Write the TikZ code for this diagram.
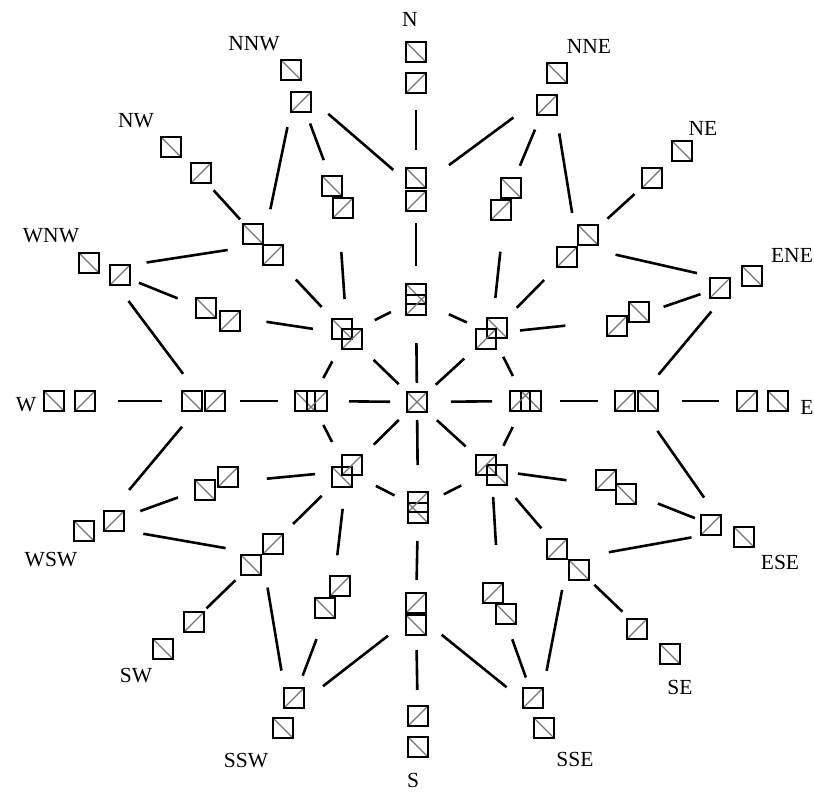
\documentclass[tikz,border=0pt]{standalone}
\usepackage{fontspec}
\setmainfont{Liberation Serif}
\usetikzlibrary{calc}
\tikzset{
  sq/.style={draw, line width=2.2pt, minimum size=19.8pt, inner sep=0pt, outer sep=0pt},
  diag/.style={draw=black!55, line width=1.1pt},
  bsq/.style={sq, path picture={\draw[diag] (path picture bounding box.north west) -- (path picture bounding box.south east);}},
  fsq/.style={sq, path picture={\draw[diag] (path picture bounding box.south west) -- (path picture bounding box.north east);}},
  link/.style={line width=2.6pt},
  lab/.style={inner sep=0pt, font=\fontsize{21.5}{24}\selectfont},
}
\newcommand\gnode[5]{%
  \node[bsq] (#1b) at (#2,#3) {};
  \node[fsq] (#1f) at (#4,#5) {};
  \coordinate (#1) at ($(#1b.center)!0.5!(#1f.center)$);}
\begin{document}
\begin{tikzpicture}[x=1pt,y=-1pt]
\useasboundingbox (0,0) rectangle (814,792);
% centre
\gnode{c}{417}{402}{417}{402}
% ring 1
\gnode{aN}{416}{294}{416}{305}
\gnode{aNE}{497}{328}{486}{339}
\gnode{aE}{531}{401}{520}{401}
\gnode{aSE}{497}{475}{486}{465}
\gnode{aS}{418}{513}{418}{502}
\gnode{aSW}{342}{477}{352}{465}
\gnode{aW}{305}{401}{317}{401}
\gnode{aNW}{342}{329}{352}{339}
% ring 2
\gnode{bN}{416}{178}{416}{201}
\gnode{bNNE}{511}{188}{501}{210}
\gnode{bNE}{588}{235}{567}{257}
\gnode{bENE}{639}{312}{617}{326}
\gnode{bE}{648}{401}{625}{401}
\gnode{bESE}{626}{494}{606}{480}
\gnode{bSE}{579}{570}{557}{549}
\gnode{bSSE}{506}{614}{493}{593}
\gnode{bS}{416}{625}{416}{603}
\gnode{bSSW}{325}{608}{340}{586}
\gnode{bSW}{251}{565}{273}{544}
\gnode{bWSW}{205}{490}{228}{477}
\gnode{bW}{192}{401}{215}{401}
\gnode{bWNW}{206}{308}{230}{321}
\gnode{bNW}{253}{234}{273}{255}
\gnode{bNNW}{332}{186}{343}{208}
% ring 3
\gnode{dN}{416}{52}{416}{83}
\gnode{dNNE}{557}{73}{547}{105}
\gnode{dNE}{682}{151}{652}{178}
\gnode{dENE}{752}{276}{720}{288}
\gnode{dE}{778}{401}{747}{401}
\gnode{dESE}{744}{537}{711}{525}
\gnode{dSE}{670}{654}{637}{629}
\gnode{dSSE}{544}{728}{533}{698}
\gnode{dS}{418}{747}{418}{716}
\gnode{dSSW}{283}{728}{294}{698}
\gnode{dSW}{163}{649}{194}{622}
\gnode{dWSW}{84}{531}{114}{521}
\gnode{dW}{54}{401}{85}{401}
\gnode{dWNW}{89}{263}{120}{275}
\gnode{dNW}{171}{147}{201}{173}
\gnode{dNNW}{291}{70}{301}{102}
% labels
\node[lab] (tN) at (410,19) {N};
\node[lab] (tNNE) at (589,46) {NNE};
\node[lab] (tNE) at (703,128) {NE};
\node[lab] (tENE) at (792,255) {ENE};
\node[lab] (tE) at (807,407) {E};
\node[lab] (tESE) at (780,562) {ESE};
\node[lab] (tSE) at (680,687) {SE};
\node[lab] (tSSE) at (575,759) {SSE};
\node[lab] (tS) at (413,780) {S};
\node[lab] (tSSW) at (246,761) {SSW};
\node[lab] (tSW) at (136,676) {SW};
\node[lab] (tWSW) at (51,560) {WSW};
\node[lab] (tW) at (26,405) {W};
\node[lab] (tWNW) at (51,236) {WNW};
\node[lab] (tNW) at (136,121) {NW};
\node[lab] (tNNW) at (254,44) {NNW};
% connectors: centre -- ring 1
\foreach \d/\s/\t in {N/19/43.5, NE/25.5/37, E/34/33.5, SE/27/35, S/18/42.5,
  SW/25.5/37.5, W/27/38, NW/25.5/37}
  \draw[link, shorten <=\s pt, shorten >=\t pt] (c) -- (a\d);
% ring 1 cycle
\foreach \p/\q/\s/\t in {N/NE/36/27, NE/E/26/28, E/SE/29/27, SE/S/34/29,
  S/SW/26.4/32.5, SW/W/32.6/27, W/NW/26/31, NW/N/31/28}
  \draw[link, shorten <=\s pt, shorten >=\t pt] (a\p) -- (a\q);
% ring 1 -- ring 2
\foreach \p/\q/\s/\t in {N/N/33.5/33.5, E/E/34.5/38.5, S/S/33.5/34, W/W/33/36.5,
  NE/NE/36/47.7, NE/NNE/35.8/53, NE/ENE/28.7/63,
  SE/SE/37/41, SE/ESE/26.8/50, SE/SSE/27/58.5,
  SW/SW/35.4/43.5, SW/SSW/38/42, SW/WSW/32/50.5,
  NW/NW/37/48, NW/WNW/34.5/49, NW/NNW/35/55}
  \draw[link, shorten <=\s pt, shorten >=\t pt] (a\p) -- (b\q);
% ring 2 -- ring 3
\foreach \p/\q/\s/\t in {N/N/39.5/42.5, NE/NE/40.6/44, E/E/45.5/43.5, SE/SE/36.5/43,
  S/S/36/41.5, SW/SW/37/39, W/W/41.5/48.5, NW/NW/34/41,
  NNE/NNE/36/44, N/NNE/41/48, NE/NNE/33.4/45,
  ENE/ENE/37.6/37.6, NE/ENE/39/40, E/ENE/34.4/38.4,
  ESE/ESE/45/35, E/ESE/36.5/40.8, SE/ESE/41.4/36.6,
  SSE/SSE/38/37.7, SE/SSE/31/43, S/SSE/33/41,
  SSW/SSW/45/40, SW/SSW/33.5/43, S/SSW/35.5/43.7,
  WSW/WSW/41/43.9, SW/WSW/37/45, W/WSW/33.6/46.9,
  WNW/WNW/43.5/37, NW/WNW/35.8/42.6, W/WNW/34/40,
  NNW/NNW/39.4/40, NW/NNW/36/42, N/NNW/30/42.6}
  \draw[link, shorten <=\s pt, shorten >=\t pt] (b\p) -- (d\q);
\end{tikzpicture}
\end{document}
